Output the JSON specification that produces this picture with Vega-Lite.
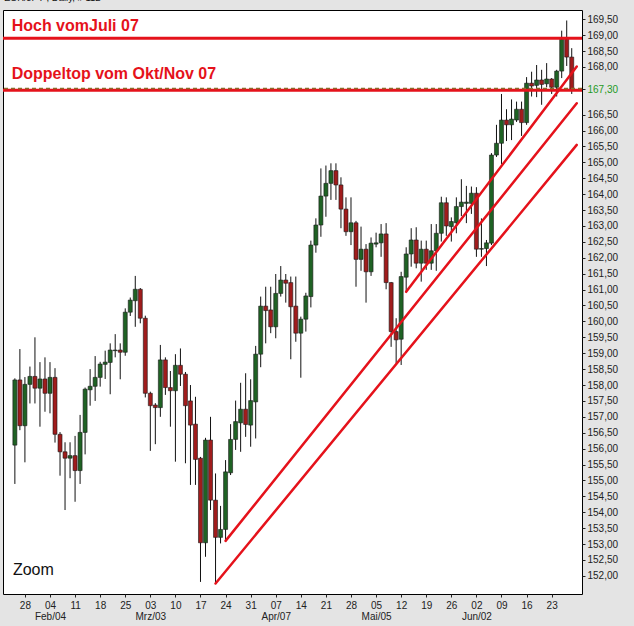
{
  "$schema": "https://vega.github.io/schema/vega-lite/v6.json",
  "width": 579,
  "height": 584,
  "autosize": "none",
  "padding": {"left": 3, "top": 10, "right": 52, "bottom": 32},
  "background": "#e4e4e4",
  "title": {"text": "EUR/JPY , Daily, # 112", "anchor": "start", "orient": "top", "frame": "group", "offset": 0, "baseline": "alphabetic", "fontSize": 9.5, "fontWeight": "normal", "font": "Liberation Sans", "color": "#111", "dx": 1},
  "config": {"view": {"fill": "white", "stroke": "black", "strokeWidth": 1}},
  "datasets": {
    "candles": [
      {"d":"2008-01-24","i":-2,"o":156.11,"h":158.21,"l":154.89,"c":158.16},
      {"d":"2008-01-25","i":-1,"o":158.16,"h":159.13,"l":156.58,"c":156.72},
      {"d":"2008-01-28","i":0,"o":156.72,"h":158.25,"l":155.57,"c":158.02},
      {"d":"2008-01-29","i":1,"o":158.02,"h":158.58,"l":157.42,"c":158.27},
      {"d":"2008-01-30","i":2,"o":158.27,"h":159.50,"l":157.42,"c":157.90},
      {"d":"2008-01-31","i":3,"o":157.90,"h":158.72,"l":156.69,"c":158.19},
      {"d":"2008-02-01","i":4,"o":158.19,"h":158.87,"l":157.16,"c":157.74},
      {"d":"2008-02-04","i":5,"o":157.74,"h":158.72,"l":157.11,"c":158.24},
      {"d":"2008-02-05","i":6,"o":158.24,"h":158.53,"l":156.19,"c":156.45},
      {"d":"2008-02-06","i":7,"o":156.45,"h":156.52,"l":155.15,"c":155.90},
      {"d":"2008-02-07","i":8,"o":155.90,"h":156.20,"l":154.07,"c":155.70},
      {"d":"2008-02-08","i":9,"o":155.70,"h":156.20,"l":155.07,"c":155.78},
      {"d":"2008-02-11","i":10,"o":155.78,"h":156.40,"l":154.33,"c":155.31},
      {"d":"2008-02-12","i":11,"o":155.31,"h":157.06,"l":154.89,"c":156.51},
      {"d":"2008-02-13","i":12,"o":156.51,"h":157.92,"l":155.82,"c":157.87},
      {"d":"2008-02-14","i":13,"o":157.85,"h":158.50,"l":157.35,"c":157.96},
      {"d":"2008-02-15","i":14,"o":157.96,"h":158.91,"l":157.50,"c":158.24},
      {"d":"2008-02-18","i":15,"o":158.24,"h":158.73,"l":157.95,"c":158.66},
      {"d":"2008-02-19","i":16,"o":158.65,"h":159.08,"l":158.19,"c":158.72},
      {"d":"2008-02-20","i":17,"o":158.71,"h":159.31,"l":157.71,"c":159.10},
      {"d":"2008-02-21","i":18,"o":159.08,"h":159.60,"l":158.87,"c":159.10},
      {"d":"2008-02-22","i":19,"o":159.10,"h":159.31,"l":158.18,"c":159.03},
      {"d":"2008-02-25","i":20,"o":159.03,"h":160.41,"l":158.92,"c":160.29},
      {"d":"2008-02-26","i":21,"o":160.29,"h":160.75,"l":160.17,"c":160.67},
      {"d":"2008-02-27","i":22,"o":160.65,"h":161.43,"l":159.83,"c":161.01},
      {"d":"2008-02-28","i":23,"o":161.01,"h":161.05,"l":159.94,"c":160.10},
      {"d":"2008-02-29","i":24,"o":160.10,"h":160.18,"l":157.61,"c":157.74},
      {"d":"2008-03-03","i":25,"o":157.74,"h":157.79,"l":155.93,"c":157.35},
      {"d":"2008-03-04","i":26,"o":157.37,"h":157.43,"l":156.14,"c":157.29},
      {"d":"2008-03-05","i":27,"o":157.29,"h":159.26,"l":157.00,"c":158.79},
      {"d":"2008-03-06","i":28,"o":158.79,"h":158.87,"l":157.69,"c":157.92},
      {"d":"2008-03-07","i":29,"o":157.92,"h":158.44,"l":156.69,"c":157.82},
      {"d":"2008-03-10","i":30,"o":157.82,"h":158.97,"l":155.59,"c":158.62},
      {"d":"2008-03-11","i":31,"o":158.62,"h":159.15,"l":157.97,"c":158.34},
      {"d":"2008-03-12","i":32,"o":158.34,"h":158.41,"l":155.54,"c":157.35},
      {"d":"2008-03-13","i":33,"o":157.50,"h":158.00,"l":154.86,"c":156.74},
      {"d":"2008-03-14","i":34,"o":156.77,"h":157.63,"l":154.86,"c":155.66},
      {"d":"2008-03-17","i":35,"o":155.70,"h":155.74,"l":151.81,"c":153.04},
      {"d":"2008-03-18","i":36,"o":153.04,"h":156.34,"l":152.60,"c":156.27},
      {"d":"2008-03-19","i":37,"o":156.27,"h":157.00,"l":154.07,"c":154.38},
      {"d":"2008-03-20","i":38,"o":154.38,"h":155.22,"l":151.76,"c":153.21},
      {"d":"2008-03-21","i":39,"o":153.21,"h":154.20,"l":153.02,"c":153.46},
      {"d":"2008-03-24","i":40,"o":153.46,"h":155.64,"l":153.07,"c":155.27},
      {"d":"2008-03-25","i":41,"o":155.24,"h":156.77,"l":155.17,"c":156.29},
      {"d":"2008-03-26","i":42,"o":156.29,"h":157.51,"l":155.96,"c":156.85},
      {"d":"2008-03-27","i":43,"o":156.81,"h":158.07,"l":155.90,"c":157.24},
      {"d":"2008-03-28","i":44,"o":157.24,"h":158.37,"l":156.37,"c":156.76},
      {"d":"2008-03-31","i":45,"o":156.74,"h":158.18,"l":156.06,"c":157.51},
      {"d":"2008-04-01","i":46,"o":157.47,"h":159.23,"l":156.32,"c":158.97},
      {"d":"2008-04-02","i":47,"o":158.97,"h":160.78,"l":158.56,"c":160.48},
      {"d":"2008-04-03","i":48,"o":160.48,"h":161.09,"l":159.31,"c":160.34},
      {"d":"2008-04-04","i":49,"o":160.36,"h":161.09,"l":159.63,"c":159.83},
      {"d":"2008-04-07","i":50,"o":159.83,"h":161.49,"l":159.47,"c":160.88},
      {"d":"2008-04-08","i":51,"o":160.88,"h":161.74,"l":160.78,"c":161.30},
      {"d":"2008-04-09","i":52,"o":161.30,"h":161.49,"l":160.59,"c":161.20},
      {"d":"2008-04-10","i":53,"o":161.22,"h":161.41,"l":158.81,"c":160.46},
      {"d":"2008-04-11","i":54,"o":160.48,"h":161.41,"l":159.36,"c":159.63},
      {"d":"2008-04-14","i":55,"o":159.63,"h":160.15,"l":158.23,"c":160.07},
      {"d":"2008-04-15","i":56,"o":160.07,"h":160.90,"l":159.68,"c":160.80},
      {"d":"2008-04-16","i":57,"o":160.78,"h":162.54,"l":160.44,"c":162.40},
      {"d":"2008-04-17","i":58,"o":162.40,"h":163.24,"l":162.16,"c":163.03},
      {"d":"2008-04-18","i":59,"o":163.03,"h":164.81,"l":162.66,"c":163.94},
      {"d":"2008-04-21","i":60,"o":163.94,"h":164.90,"l":163.29,"c":164.34},
      {"d":"2008-04-22","i":61,"o":164.34,"h":164.97,"l":163.82,"c":164.74},
      {"d":"2008-04-23","i":62,"o":164.74,"h":164.97,"l":163.82,"c":164.29},
      {"d":"2008-04-24","i":63,"o":164.29,"h":164.53,"l":162.93,"c":163.53},
      {"d":"2008-04-25","i":64,"o":163.53,"h":163.90,"l":162.69,"c":162.82},
      {"d":"2008-04-28","i":65,"o":162.82,"h":163.90,"l":162.40,"c":163.10},
      {"d":"2008-04-29","i":66,"o":163.10,"h":163.16,"l":161.09,"c":161.95},
      {"d":"2008-04-30","i":67,"o":161.95,"h":162.98,"l":161.59,"c":162.27},
      {"d":"2008-05-01","i":68,"o":162.27,"h":162.43,"l":160.59,"c":161.56},
      {"d":"2008-05-02","i":69,"o":161.56,"h":162.64,"l":161.43,"c":162.46},
      {"d":"2008-05-05","i":70,"o":162.43,"h":162.79,"l":162.33,"c":162.47},
      {"d":"2008-05-06","i":71,"o":162.47,"h":163.06,"l":162.03,"c":162.75},
      {"d":"2008-05-07","i":72,"o":162.75,"h":163.09,"l":161.01,"c":161.22},
      {"d":"2008-05-08","i":73,"o":161.22,"h":161.24,"l":159.20,"c":159.68},
      {"d":"2008-05-09","i":74,"o":159.68,"h":160.10,"l":158.68,"c":159.42},
      {"d":"2008-05-12","i":75,"o":159.44,"h":161.56,"l":158.63,"c":161.41},
      {"d":"2008-05-13","i":76,"o":161.39,"h":162.33,"l":160.93,"c":162.12},
      {"d":"2008-05-14","i":77,"o":162.12,"h":162.93,"l":161.72,"c":162.56},
      {"d":"2008-05-15","i":78,"o":162.56,"h":162.96,"l":161.67,"c":161.83},
      {"d":"2008-05-16","i":79,"o":161.83,"h":162.54,"l":161.25,"c":162.27},
      {"d":"2008-05-19","i":80,"o":162.27,"h":162.54,"l":161.62,"c":161.83},
      {"d":"2008-05-20","i":81,"o":161.83,"h":163.06,"l":161.62,"c":162.22},
      {"d":"2008-05-21","i":82,"o":162.22,"h":163.06,"l":161.59,"c":162.77},
      {"d":"2008-05-22","i":83,"o":162.77,"h":163.92,"l":162.51,"c":163.73},
      {"d":"2008-05-23","i":84,"o":163.73,"h":163.90,"l":162.69,"c":163.00},
      {"d":"2008-05-26","i":85,"o":162.98,"h":163.27,"l":162.51,"c":163.14},
      {"d":"2008-05-27","i":86,"o":163.10,"h":163.90,"l":162.77,"c":163.61},
      {"d":"2008-05-28","i":87,"o":163.61,"h":164.47,"l":163.31,"c":163.75},
      {"d":"2008-05-29","i":88,"o":163.71,"h":164.26,"l":163.09,"c":163.75},
      {"d":"2008-05-30","i":89,"o":163.71,"h":164.24,"l":163.38,"c":164.03},
      {"d":"2008-06-02","i":90,"o":164.03,"h":164.22,"l":162.03,"c":162.27},
      {"d":"2008-06-03","i":91,"o":162.27,"h":163.24,"l":162.03,"c":162.29},
      {"d":"2008-06-04","i":92,"o":162.29,"h":162.56,"l":161.74,"c":162.47},
      {"d":"2008-06-05","i":93,"o":162.46,"h":165.29,"l":162.40,"c":165.23},
      {"d":"2008-06-06","i":94,"o":165.23,"h":166.18,"l":165.17,"c":165.60},
      {"d":"2008-06-09","i":95,"o":165.60,"h":167.15,"l":164.95,"c":166.33},
      {"d":"2008-06-10","i":96,"o":166.33,"h":166.67,"l":165.67,"c":166.18},
      {"d":"2008-06-11","i":97,"o":166.18,"h":166.98,"l":165.70,"c":166.36},
      {"d":"2008-06-12","i":98,"o":166.33,"h":166.91,"l":166.27,"c":166.67},
      {"d":"2008-06-13","i":99,"o":166.67,"h":166.91,"l":165.83,"c":166.25},
      {"d":"2008-06-16","i":100,"o":166.25,"h":167.68,"l":166.18,"c":167.49},
      {"d":"2008-06-17","i":101,"o":167.49,"h":167.85,"l":167.07,"c":167.40},
      {"d":"2008-06-18","i":102,"o":167.42,"h":168.06,"l":167.05,"c":167.59},
      {"d":"2008-06-19","i":103,"o":167.59,"h":167.91,"l":166.81,"c":167.45},
      {"d":"2008-06-20","i":104,"o":167.47,"h":168.12,"l":167.36,"c":167.62},
      {"d":"2008-06-23","i":105,"o":167.62,"h":167.65,"l":167.15,"c":167.36},
      {"d":"2008-06-24","i":106,"o":167.36,"h":167.91,"l":167.07,"c":167.87},
      {"d":"2008-06-25","i":107,"o":167.87,"h":169.14,"l":167.65,"c":168.87},
      {"d":"2008-06-26","i":108,"o":168.87,"h":169.46,"l":168.03,"c":168.31},
      {"d":"2008-06-27","i":109,"o":168.31,"h":168.59,"l":167.15,"c":167.30}
    ],
    "levels": [
      {"name": "Hoch Juli 07", "p": 168.90},
      {"name": "Doppeltop Okt/Nov 07", "p": 167.27}
    ],
    "lastprice": [{"p": 167.32}],
    "trend": [
      {"x1": 40, "p1": 153.10, "x2": 110, "p2": 166.86},
      {"x1": 38, "p1": 151.76, "x2": 110, "p2": 165.55},
      {"x1": 76, "p1": 160.93, "x2": 110, "p2": 168.01}
    ],
    "notes": [
      {"t": "Hoch vomJuli 07", "i": -2.64, "p": 169.29},
      {"t": "Doppeltop vom Okt/Nov 07", "i": -2.64, "p": 167.78}
    ],
    "zoom": [{"t": "Zoom", "i": -2.39, "p": 152.18}]
  },
  "layer": [
    {
      "data": {"name": "candles"},
      "mark": {"type": "rule", "color": "#111", "strokeWidth": 1},
      "encoding": {
        "x": {"field": "i", "type": "quantitative", "scale": {"domain": [-3.37, 110.05], "nice": false, "zero": false},
          "axis": {"orient": "bottom", "values": [0,5,10,15,20,25,30,35,40,45,50,55,60,65,70,75,80,85,90,95,100,105],
            "labelExpr": "date(datetime(2008,0,28+datum.value/5*7)) <= 7 ? [timeFormat(datetime(2008,0,28+datum.value/5*7),'%d'), ['Jan','Feb','Mrz','Apr','Mai','Jun','Jul'][month(datetime(2008,0,28+datum.value/5*7))] + '/' + timeFormat(datetime(2008,0,28+datum.value/5*7),'%d')] : timeFormat(datetime(2008,0,28+datum.value/5*7),'%d')",
            "labelFontSize": 10, "labelFont": "Liberation Sans", "labelColor": "#222", "labelLineHeight": 11,
            "tickSize": 3, "tickColor": "#222", "labelPadding": 3, "domain": false, "grid": false, "title": null,
            "labelOverlap": false, "labelBound": false, "labelFlush": false}},
        "y": {"field": "l", "type": "quantitative", "scale": {"domain": [151.43, 169.79], "nice": false, "zero": false},
          "axis": {"orient": "right", "values": [152,152.5,153,153.5,154,154.5,155,155.5,156,156.5,157,157.5,158,158.5,159,159.5,160,160.5,161,161.5,162,162.5,163,163.5,164,164.5,165,165.5,166,166.5,167.3,168,168.5,169,169.5],
            "labelExpr": "replace(format(datum.value,'.2f'),'.',',')",
            "labelColor": {"condition": {"test": "datum.value == 167.3", "value": "#1e9a1e"}, "value": "#222"},
            "labelFontSize": 10, "labelFont": "Liberation Sans", "tickSize": 3, "tickColor": "#222", "labelPadding": 2,
            "domain": false, "grid": false, "title": null, "labelOverlap": false, "labelBound": false, "labelFlush": false}},
        "y2": {"field": "h"}
      }
    },
    {
      "data": {"name": "candles"},
      "mark": {"type": "bar", "width": 4, "stroke": "#1a1a1a", "strokeWidth": 0.6},
      "encoding": {
        "x": {"field": "i", "type": "quantitative",
          "axis": {"orient": "bottom", "values": [0,5,10,15,20,25,30,35,40,45,50,55,60,65,70,75,80,85,90,95,100,105],
            "labelExpr": "date(datetime(2008,0,28+datum.value/5*7)) <= 7 ? [timeFormat(datetime(2008,0,28+datum.value/5*7),'%d'), ['Jan','Feb','Mrz','Apr','Mai','Jun','Jul'][month(datetime(2008,0,28+datum.value/5*7))] + '/' + timeFormat(datetime(2008,0,28+datum.value/5*7),'%d')] : timeFormat(datetime(2008,0,28+datum.value/5*7),'%d')",
            "labelFontSize": 10, "labelFont": "Liberation Sans", "labelColor": "#222", "labelLineHeight": 11,
            "tickSize": 3, "tickColor": "#222", "labelPadding": 3, "domain": false, "grid": false, "title": null,
            "labelOverlap": false, "labelBound": false, "labelFlush": false}},
        "y": {"field": "o", "type": "quantitative",
          "axis": {"orient": "right", "values": [152,152.5,153,153.5,154,154.5,155,155.5,156,156.5,157,157.5,158,158.5,159,159.5,160,160.5,161,161.5,162,162.5,163,163.5,164,164.5,165,165.5,166,166.5,167.3,168,168.5,169,169.5],
            "labelExpr": "replace(format(datum.value,'.2f'),'.',',')",
            "labelColor": {"condition": {"test": "datum.value == 167.3", "value": "#1e9a1e"}, "value": "#222"},
            "labelFontSize": 10, "labelFont": "Liberation Sans", "tickSize": 3, "tickColor": "#222", "labelPadding": 2,
            "domain": false, "grid": false, "title": null, "labelOverlap": false, "labelBound": false, "labelFlush": false}},
        "y2": {"field": "c"},
        "color": {"condition": {"test": "datum.c >= datum.o", "value": "#1f6224"}, "value": "#a01c1c"}
      }
    },
    {
      "data": {"name": "levels"},
      "mark": {"type": "rule", "color": "#e5121b", "strokeWidth": 3},
      "encoding": {"y": {"field": "p", "type": "quantitative",
          "axis": {"orient": "right", "values": [152,152.5,153,153.5,154,154.5,155,155.5,156,156.5,157,157.5,158,158.5,159,159.5,160,160.5,161,161.5,162,162.5,163,163.5,164,164.5,165,165.5,166,166.5,167.3,168,168.5,169,169.5],
            "labelExpr": "replace(format(datum.value,'.2f'),'.',',')",
            "labelColor": {"condition": {"test": "datum.value == 167.3", "value": "#1e9a1e"}, "value": "#222"},
            "labelFontSize": 10, "labelFont": "Liberation Sans", "tickSize": 3, "tickColor": "#222", "labelPadding": 2,
            "domain": false, "grid": false, "title": null, "labelOverlap": false, "labelBound": false, "labelFlush": false}}}
    },
    {
      "data": {"name": "lastprice"},
      "mark": {"type": "rule", "color": "#8b6a2b", "strokeWidth": 1.6, "strokeDash": [4, 3]},
      "encoding": {"y": {"field": "p", "type": "quantitative",
          "axis": {"orient": "right", "values": [152,152.5,153,153.5,154,154.5,155,155.5,156,156.5,157,157.5,158,158.5,159,159.5,160,160.5,161,161.5,162,162.5,163,163.5,164,164.5,165,165.5,166,166.5,167.3,168,168.5,169,169.5],
            "labelExpr": "replace(format(datum.value,'.2f'),'.',',')",
            "labelColor": {"condition": {"test": "datum.value == 167.3", "value": "#1e9a1e"}, "value": "#222"},
            "labelFontSize": 10, "labelFont": "Liberation Sans", "tickSize": 3, "tickColor": "#222", "labelPadding": 2,
            "domain": false, "grid": false, "title": null, "labelOverlap": false, "labelBound": false, "labelFlush": false}}}
    },
    {
      "data": {"name": "trend"},
      "mark": {"type": "rule", "color": "#e5121b", "strokeWidth": 2.5, "strokeCap": "round"},
      "encoding": {
        "x": {"field": "x1", "type": "quantitative",
          "axis": {"orient": "bottom", "values": [0,5,10,15,20,25,30,35,40,45,50,55,60,65,70,75,80,85,90,95,100,105],
            "labelExpr": "date(datetime(2008,0,28+datum.value/5*7)) <= 7 ? [timeFormat(datetime(2008,0,28+datum.value/5*7),'%d'), ['Jan','Feb','Mrz','Apr','Mai','Jun','Jul'][month(datetime(2008,0,28+datum.value/5*7))] + '/' + timeFormat(datetime(2008,0,28+datum.value/5*7),'%d')] : timeFormat(datetime(2008,0,28+datum.value/5*7),'%d')",
            "labelFontSize": 10, "labelFont": "Liberation Sans", "labelColor": "#222", "labelLineHeight": 11,
            "tickSize": 3, "tickColor": "#222", "labelPadding": 3, "domain": false, "grid": false, "title": null,
            "labelOverlap": false, "labelBound": false, "labelFlush": false}},
        "x2": {"field": "x2"},
        "y": {"field": "p1", "type": "quantitative",
          "axis": {"orient": "right", "values": [152,152.5,153,153.5,154,154.5,155,155.5,156,156.5,157,157.5,158,158.5,159,159.5,160,160.5,161,161.5,162,162.5,163,163.5,164,164.5,165,165.5,166,166.5,167.3,168,168.5,169,169.5],
            "labelExpr": "replace(format(datum.value,'.2f'),'.',',')",
            "labelColor": {"condition": {"test": "datum.value == 167.3", "value": "#1e9a1e"}, "value": "#222"},
            "labelFontSize": 10, "labelFont": "Liberation Sans", "tickSize": 3, "tickColor": "#222", "labelPadding": 2,
            "domain": false, "grid": false, "title": null, "labelOverlap": false, "labelBound": false, "labelFlush": false}},
        "y2": {"field": "p2"}
      }
    },
    {
      "data": {"name": "notes"},
      "mark": {"type": "text", "align": "left", "baseline": "middle", "font": "Liberation Sans", "fontSize": 16, "fontWeight": "bold", "color": "#e5121b"},
      "encoding": {
        "x": {"field": "i", "type": "quantitative",
          "axis": {"orient": "bottom", "values": [0,5,10,15,20,25,30,35,40,45,50,55,60,65,70,75,80,85,90,95,100,105],
            "labelExpr": "date(datetime(2008,0,28+datum.value/5*7)) <= 7 ? [timeFormat(datetime(2008,0,28+datum.value/5*7),'%d'), ['Jan','Feb','Mrz','Apr','Mai','Jun','Jul'][month(datetime(2008,0,28+datum.value/5*7))] + '/' + timeFormat(datetime(2008,0,28+datum.value/5*7),'%d')] : timeFormat(datetime(2008,0,28+datum.value/5*7),'%d')",
            "labelFontSize": 10, "labelFont": "Liberation Sans", "labelColor": "#222", "labelLineHeight": 11,
            "tickSize": 3, "tickColor": "#222", "labelPadding": 3, "domain": false, "grid": false, "title": null,
            "labelOverlap": false, "labelBound": false, "labelFlush": false}},
        "y": {"field": "p", "type": "quantitative",
          "axis": {"orient": "right", "values": [152,152.5,153,153.5,154,154.5,155,155.5,156,156.5,157,157.5,158,158.5,159,159.5,160,160.5,161,161.5,162,162.5,163,163.5,164,164.5,165,165.5,166,166.5,167.3,168,168.5,169,169.5],
            "labelExpr": "replace(format(datum.value,'.2f'),'.',',')",
            "labelColor": {"condition": {"test": "datum.value == 167.3", "value": "#1e9a1e"}, "value": "#222"},
            "labelFontSize": 10, "labelFont": "Liberation Sans", "tickSize": 3, "tickColor": "#222", "labelPadding": 2,
            "domain": false, "grid": false, "title": null, "labelOverlap": false, "labelBound": false, "labelFlush": false}},
        "text": {"field": "t"}
      }
    },
    {
      "data": {"name": "zoom"},
      "mark": {"type": "text", "align": "left", "baseline": "middle", "font": "Liberation Sans", "fontSize": 16, "color": "#111"},
      "encoding": {
        "x": {"field": "i", "type": "quantitative",
          "axis": {"orient": "bottom", "values": [0,5,10,15,20,25,30,35,40,45,50,55,60,65,70,75,80,85,90,95,100,105],
            "labelExpr": "date(datetime(2008,0,28+datum.value/5*7)) <= 7 ? [timeFormat(datetime(2008,0,28+datum.value/5*7),'%d'), ['Jan','Feb','Mrz','Apr','Mai','Jun','Jul'][month(datetime(2008,0,28+datum.value/5*7))] + '/' + timeFormat(datetime(2008,0,28+datum.value/5*7),'%d')] : timeFormat(datetime(2008,0,28+datum.value/5*7),'%d')",
            "labelFontSize": 10, "labelFont": "Liberation Sans", "labelColor": "#222", "labelLineHeight": 11,
            "tickSize": 3, "tickColor": "#222", "labelPadding": 3, "domain": false, "grid": false, "title": null,
            "labelOverlap": false, "labelBound": false, "labelFlush": false}},
        "y": {"field": "p", "type": "quantitative",
          "axis": {"orient": "right", "values": [152,152.5,153,153.5,154,154.5,155,155.5,156,156.5,157,157.5,158,158.5,159,159.5,160,160.5,161,161.5,162,162.5,163,163.5,164,164.5,165,165.5,166,166.5,167.3,168,168.5,169,169.5],
            "labelExpr": "replace(format(datum.value,'.2f'),'.',',')",
            "labelColor": {"condition": {"test": "datum.value == 167.3", "value": "#1e9a1e"}, "value": "#222"},
            "labelFontSize": 10, "labelFont": "Liberation Sans", "tickSize": 3, "tickColor": "#222", "labelPadding": 2,
            "domain": false, "grid": false, "title": null, "labelOverlap": false, "labelBound": false, "labelFlush": false}},
        "text": {"field": "t"}
      }
    }
  ]
}
